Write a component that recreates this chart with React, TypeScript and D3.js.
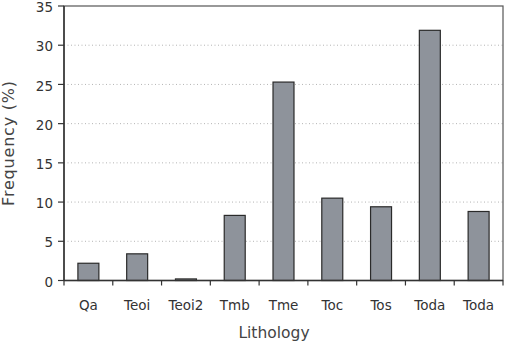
import React from "react";
import * as d3 from "d3";

const categories = ["Qa", "Teoi", "Teoi2", "Tmb", "Tme", "Toc", "Tos", "Toda", "Toda"];
const frequency = [2.2, 3.4, 0.2, 8.3, 25.3, 10.5, 9.4, 31.9, 8.8];
const yTicks = [0, 5, 10, 15, 20, 25, 30, 35];
const gridTicks = [5, 10, 15, 20, 25, 30];

const W = 506;
const H = 344;
const left = 64;
const right = 503;
const top = 6;
const bottom = 280.5;
const font = "'DejaVu Sans', 'Liberation Sans', sans-serif";

export default function App() {
  const x = d3.scaleBand<number>().domain(d3.range(categories.length)).range([left, right]).paddingInner(0).paddingOuter(0);
  const y = d3.scaleLinear().domain([0, 35]).range([bottom, top]);
  const bw = x.bandwidth() * 0.43;
  return (
    <svg width={W} height={H} style={{ position: "absolute", left: 0, top: 0, background: "#fff" }}>
      {gridTicks.map((t) => (
        <line key={t} x1={left} x2={right} y1={y(t)} y2={y(t)} stroke="#b4b4b4" strokeWidth={1} strokeDasharray="1,2.5" />
      ))}
      {frequency.map((v, i) => (
        <rect
          key={i}
          x={x(i)! + (x.bandwidth() - bw) / 2}
          y={y(v)}
          width={bw}
          height={bottom - y(v)}
          fill="#8e939b"
          stroke="#2a2a2a"
          strokeWidth={1.2}
        />
      ))}
      <rect x={left} y={top} width={right - left} height={bottom - top} fill="none" stroke="#555" strokeWidth={1.2} />
      <line x1={left} x2={left} y1={top} y2={bottom} stroke="#333" strokeWidth={1.5} />
      <line x1={left} x2={right} y1={bottom} y2={bottom} stroke="#333" strokeWidth={1.5} />
      {yTicks.map((t) => (
        <g key={t}>
          <line x1={left - 6} x2={left} y1={y(t)} y2={y(t)} stroke="#333" strokeWidth={1.2} />
          <text x={left - 11} y={y(t)} dy="0.45em" textAnchor="end" fontFamily={font} fontSize={13.5} fill="#333">
            {t}
          </text>
        </g>
      ))}
      {d3.range(categories.length + 1).map((i) => {
        const xx = left + i * x.step();
        return <line key={i} x1={xx} x2={xx} y1={bottom} y2={bottom + 5} stroke="#333" strokeWidth={1.2} />;
      })}
      {categories.map((c, i) => (
        <text key={i} x={x(i)! + x.bandwidth() / 2} y={310} textAnchor="middle" fontFamily={font} fontSize={13.5} fill="#333">
          {c}
        </text>
      ))}
      <text x={274} y={338} textAnchor="middle" fontFamily={font} fontSize={15.5} fill="#444">
        Lithology
      </text>
      <text transform={`translate(14,143) rotate(-90)`} textAnchor="middle" fontFamily={font} fontSize={16} letterSpacing={0.8} fill="#444">
        Frequency (%)
      </text>
    </svg>
  );
}
